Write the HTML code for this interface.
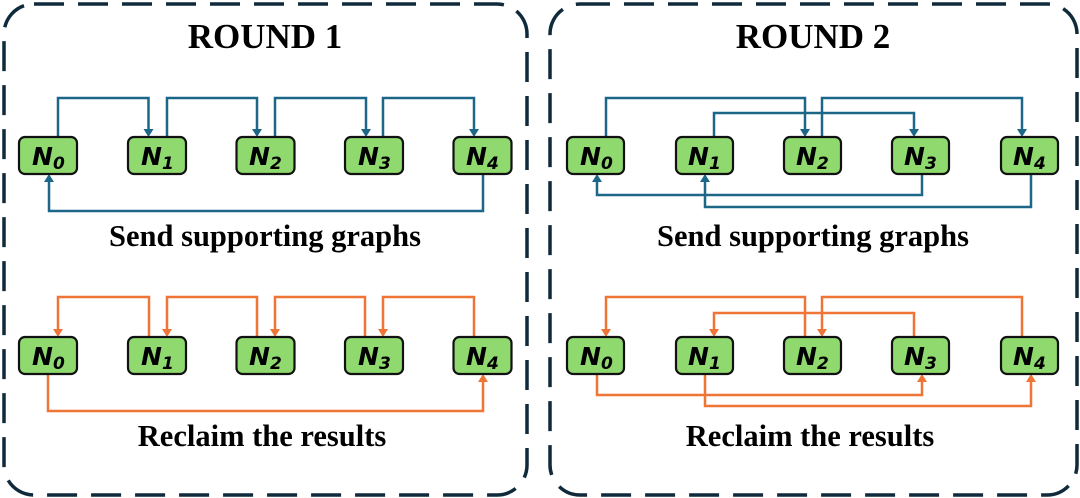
<!DOCTYPE html>
<html><head><meta charset="utf-8"><style>
html,body{margin:0;padding:0;background:#fff;}
svg{display:block;}
.t{font-family:"Liberation Serif",serif;font-weight:bold;fill:#000;text-anchor:middle;}
.n{font-family:"DejaVu Sans","Liberation Sans",sans-serif;font-weight:bold;font-style:italic;fill:#000;}
</style></head><body>
<svg width="1080" height="498" viewBox="0 0 1080 498" xmlns="http://www.w3.org/2000/svg">
<g fill="none" stroke="#0f2a3a" stroke-width="3.5" stroke-dasharray="30 14">
<rect x="4" y="4" width="523" height="491" rx="30"/>
<rect x="550" y="4" width="527" height="491" rx="30"/>
</g>
<text class="t" x="265" y="48" font-size="35">ROUND 1</text>
<text class="t" x="813" y="48" font-size="35">ROUND 2</text>
<text class="t" x="265" y="246" font-size="30.5">Send supporting graphs</text>
<text class="t" x="813" y="246" font-size="30.5">Send supporting graphs</text>
<text class="t" x="262" y="446" font-size="30.5">Reclaim the results</text>
<text class="t" x="810" y="446" font-size="30.5">Reclaim the results</text>

<g fill="none" stroke="#1c6688" stroke-width="2.5">
<path d="M58 137V98H148.5V130"/>
<path d="M167 137V98H257V130"/>
<path d="M275 137V98H366V130"/>
<path d="M383 137V98H474V130"/>
<path d="M483 174V211H49V181"/>
<path d="M606 137V98H805V130"/>
<path d="M822 137V98H1022V130"/>
<path d="M714 137V113H914V130"/>
<path d="M922 174V195H597V181"/>
<path d="M1031 174V207H705V181"/>
</g>
<g fill="#1c6688">
<path d="M143.5 129h10l-5 8z"/><path d="M252 129h10l-5 8z"/><path d="M361 129h10l-5 8z"/><path d="M469 129h10l-5 8z"/>
<path d="M44 182h10l-5 -8z"/>
<path d="M800 129h10l-5 8z"/><path d="M1017 129h10l-5 8z"/><path d="M909 129h10l-5 8z"/>
<path d="M592 182h10l-5 -8z"/><path d="M700 182h10l-5 -8z"/>
</g>

<g fill="none" stroke="#ef7536" stroke-width="2.5">
<path d="M149 337V297H58V330"/>
<path d="M257 337V297H167V330"/>
<path d="M365 337V297H275V330"/>
<path d="M474 337V297H383V330"/>
<path d="M48 373V411H483V381"/>
<path d="M805 337V297H606V330"/>
<path d="M1022 337V297H822V330"/>
<path d="M914 337V313H714V330"/>
<path d="M597 373V395H922V381"/>
<path d="M705 373V406H1031V381"/>
</g>
<g fill="#ef7536">
<path d="M53 329h10l-5 8z"/><path d="M162 329h10l-5 8z"/><path d="M270 329h10l-5 8z"/><path d="M378 329h10l-5 8z"/>
<path d="M478 382h10l-5 -8z"/>
<path d="M601 329h10l-5 8z"/><path d="M817 329h10l-5 8z"/><path d="M709 329h10l-5 8z"/>
<path d="M917 382h10l-5 -8z"/><path d="M1026 382h10l-5 -8z"/>
</g>

<g fill="#8fd96f" stroke="#111" stroke-width="2.2">
<rect x="19" y="137" width="58" height="37" rx="6"/>
<rect x="128" y="137" width="58" height="37" rx="6"/>
<rect x="236.5" y="137" width="58" height="37" rx="6"/>
<rect x="345" y="137" width="58" height="37" rx="6"/>
<rect x="453.5" y="137" width="58" height="37" rx="6"/>
<rect x="19" y="337" width="58" height="37" rx="6"/>
<rect x="128" y="337" width="58" height="37" rx="6"/>
<rect x="236.5" y="337" width="58" height="37" rx="6"/>
<rect x="345" y="337" width="58" height="37" rx="6"/>
<rect x="453.5" y="337" width="58" height="37" rx="6"/>
<rect x="567" y="137" width="57" height="37" rx="6"/>
<rect x="676" y="137" width="57" height="37" rx="6"/>
<rect x="784" y="137" width="57" height="37" rx="6"/>
<rect x="892" y="137" width="57" height="37" rx="6"/>
<rect x="1001" y="137" width="57" height="37" rx="6"/>
<rect x="567" y="337" width="57" height="37" rx="6"/>
<rect x="676" y="337" width="57" height="37" rx="6"/>
<rect x="784" y="337" width="57" height="37" rx="6"/>
<rect x="892" y="337" width="57" height="37" rx="6"/>
<rect x="1001" y="337" width="57" height="37" rx="6"/>
</g>
<g class="n" font-size="25">
<text x="32" y="165">N<tspan font-size="17" dy="4">0</tspan></text>
<text x="141" y="165">N<tspan font-size="17" dy="4">1</tspan></text>
<text x="249" y="165">N<tspan font-size="17" dy="4">2</tspan></text>
<text x="358" y="165">N<tspan font-size="17" dy="4">3</tspan></text>
<text x="466" y="165">N<tspan font-size="17" dy="4">4</tspan></text>
<text x="32" y="365">N<tspan font-size="17" dy="4">0</tspan></text>
<text x="141" y="365">N<tspan font-size="17" dy="4">1</tspan></text>
<text x="249" y="365">N<tspan font-size="17" dy="4">2</tspan></text>
<text x="358" y="365">N<tspan font-size="17" dy="4">3</tspan></text>
<text x="466" y="365">N<tspan font-size="17" dy="4">4</tspan></text>
<text x="580" y="165">N<tspan font-size="17" dy="4">0</tspan></text>
<text x="688" y="165">N<tspan font-size="17" dy="4">1</tspan></text>
<text x="796" y="165">N<tspan font-size="17" dy="4">2</tspan></text>
<text x="904" y="165">N<tspan font-size="17" dy="4">3</tspan></text>
<text x="1013" y="165">N<tspan font-size="17" dy="4">4</tspan></text>
<text x="580" y="365">N<tspan font-size="17" dy="4">0</tspan></text>
<text x="688" y="365">N<tspan font-size="17" dy="4">1</tspan></text>
<text x="796" y="365">N<tspan font-size="17" dy="4">2</tspan></text>
<text x="904" y="365">N<tspan font-size="17" dy="4">3</tspan></text>
<text x="1013" y="365">N<tspan font-size="17" dy="4">4</tspan></text>
</g>
</svg>
</body></html>
